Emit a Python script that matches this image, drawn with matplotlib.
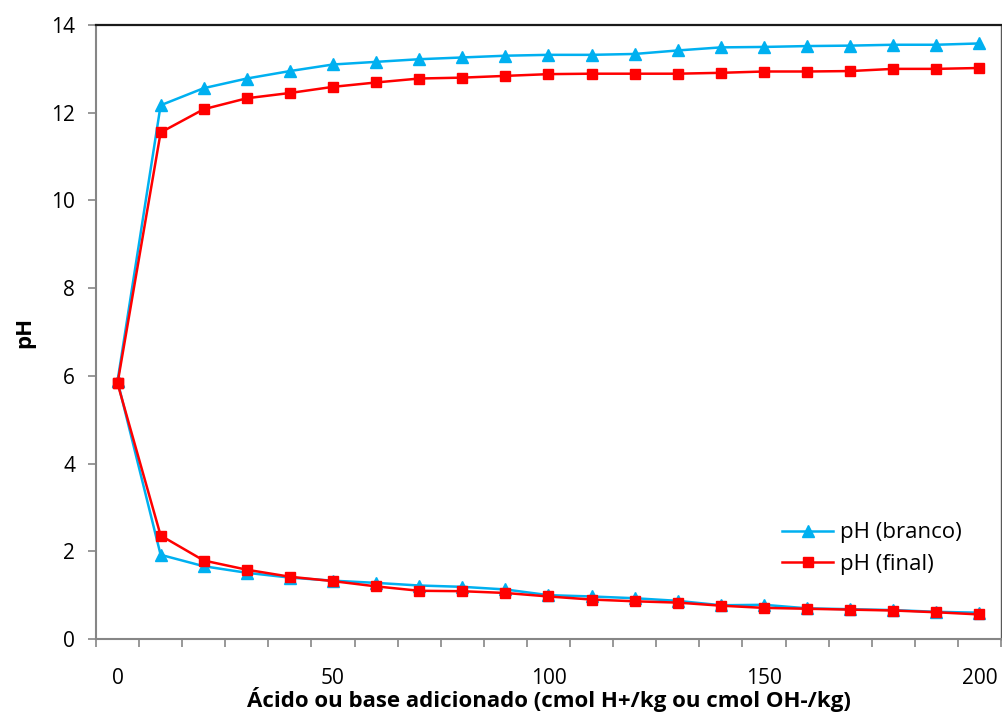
import numpy as np
import matplotlib.pyplot as plt
from matplotlib.ticker import FixedLocator

plt.rcParams['font.family'] = ['Open Sans', 'DejaVu Sans']

# added acid/base (cmol/kg)
x = [0, 10, 20, 30, 40, 50, 60, 70, 80, 90, 100,
     110, 120, 130, 140, 150, 160, 170, 180, 190, 200]

# base branch (upper) and acid branch (lower)
branco_base = [5.88, 12.17, 12.56, 12.78, 12.95, 13.10, 13.16, 13.22, 13.26, 13.30, 13.32,
               13.32, 13.34, 13.42, 13.49, 13.50, 13.52, 13.53, 13.55, 13.55, 13.58]
final_base = [5.83, 11.55, 12.08, 12.33, 12.45, 12.59, 12.69, 12.78, 12.80, 12.84, 12.88,
              12.89, 12.89, 12.89, 12.91, 12.94, 12.94, 12.95, 13.00, 13.00, 13.02]
branco_acid = [5.88, 1.92, 1.66, 1.51, 1.40, 1.33, 1.28, 1.22, 1.19, 1.13, 1.00,
               0.97, 0.93, 0.87, 0.77, 0.78, 0.70, 0.68, 0.66, 0.62, 0.60]
final_acid = [5.83, 2.36, 1.79, 1.58, 1.42, 1.32, 1.20, 1.10, 1.09, 1.05, 0.97,
              0.90, 0.86, 0.83, 0.76, 0.71, 0.69, 0.67, 0.65, 0.61, 0.56]

blue = '#00B0F0'
red = '#FF0000'
axis_grey = '#868686'

fig = plt.figure(figsize=(10.03, 7.25), dpi=100)
ax = fig.add_axes([0.0957, 0.1186, 0.9023, 0.8469])

ax.plot(x, branco_base, '-^', color=blue, lw=1.8, ms=8, label='pH (branco)')
ax.plot(x, branco_acid, '-^', color=blue, lw=1.8, ms=8)
ax.plot(x, final_base, '-s', color=red, lw=1.8, ms=7.5, label='pH (final)')
ax.plot(x, final_acid, '-s', color=red, lw=1.8, ms=7.5)

ax.set_xlim(-5, 205)
ax.set_ylim(0, 14)
ax.set_yticks(np.arange(0, 15, 2))
ax.set_xticks([0, 50, 100, 150, 200])
ax.xaxis.set_minor_locator(FixedLocator(np.arange(-5, 206, 10)))

ax.tick_params(axis='x', which='major', length=0, pad=21, labelsize=15)
ax.tick_params(axis='x', which='minor', length=6, width=1.2, color=axis_grey, direction='out')
ax.tick_params(axis='y', length=6, width=1.2, color=axis_grey, pad=9, labelsize=15)

for side in ['left', 'bottom']:
    ax.spines[side].set_color(axis_grey)
    ax.spines[side].set_linewidth(1.5)
ax.spines['top'].set_color('#1a1a1a')
ax.spines['top'].set_linewidth(1.6)
ax.spines['right'].set_color('#595959')
ax.spines['right'].set_linewidth(1.0)

ax.set_xlabel('Ácido ou base adicionado (cmol H+/kg ou cmol OH-/kg)',
              fontsize=16, fontweight='bold')
ax.xaxis.set_label_coords(0.5, -0.099)
ax.xaxis.label.set_va('center')
ax.set_ylabel('pH', fontsize=16, fontweight='bold')
ax.yaxis.set_label_coords(-0.0785, 0.5)
ax.yaxis.label.set_va('center')

ax.legend(loc='upper left', bbox_to_anchor=(0.758, 0.19), frameon=False,
          borderaxespad=0, borderpad=0,
          fontsize=16, handlelength=2.3, handletextpad=0.3, labelspacing=0.48)

fig.savefig('out.png', dpi=100)
